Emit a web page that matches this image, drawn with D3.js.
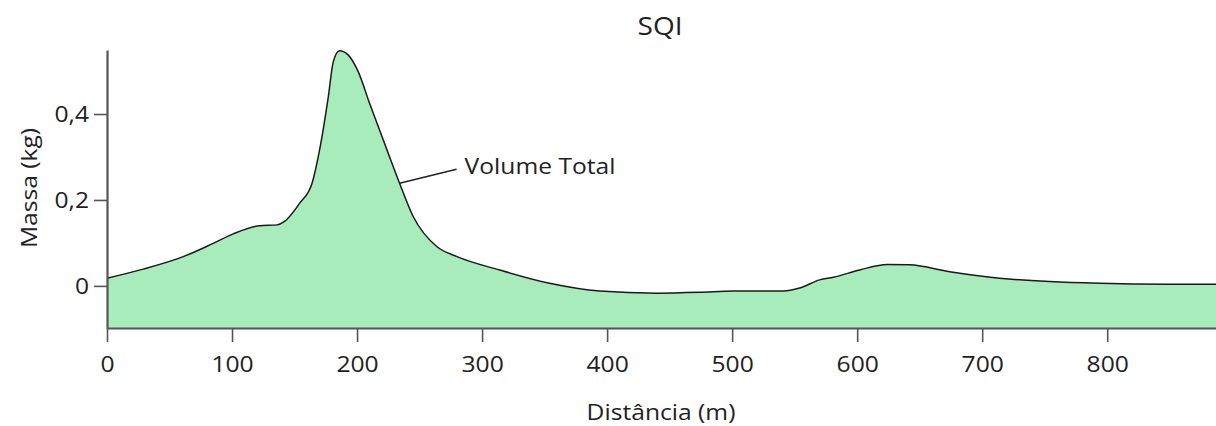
<!DOCTYPE html>
<html>
<head>
<meta charset="utf-8">
<script src="https://cdn.jsdelivr.net/npm/d3@7"></script>
<style>
  html, body { margin: 0; padding: 0; background: #fff; }
  svg { display: block; font-family: "Open Sans", "Noto Sans", sans-serif; }
</style>
</head>
<body>
<svg id="chart" width="1216" height="426"></svg>
<script>
// Distance along the profile (m) and mass of total volume (kg)
const distance = [0, 29, 61, 85, 101, 122, 136, 142, 154, 164, 170, 177, 181, 186, 193, 201, 210, 224, 234, 245, 264, 280, 314, 354, 394, 440, 474, 501, 541, 554, 570, 581, 602, 624, 642, 674, 714, 754, 794, 848, 887];
const mass = [0.018, 0.039, 0.068, 0.099, 0.121, 0.140, 0.142, 0.150, 0.192, 0.239, 0.316, 0.440, 0.522, 0.547, 0.537, 0.498, 0.425, 0.316, 0.239, 0.161, 0.091, 0.068, 0.037, 0.006, -0.012, -0.017, -0.015, -0.012, -0.012, -0.005, 0.014, 0.020, 0.037, 0.050, 0.049, 0.033, 0.018, 0.010, 0.006, 0.004, 0.004];
const xTicks = [0, 100, 200, 300, 400, 500, 600, 700, 800];
const yTicks = [0, 0.2, 0.4];
const seriesLabel = "Volume Total";
const labelAt = 234; // distance where the label leader touches the curve

const data = distance.map((d, i) => ({ x: d, y: mass[i] }));

const svg = d3.select("#chart");
const x = d3.scaleLinear().domain([0, 887]).range([107, 1216]);
const y = d3.scaleLinear().domain([-0.098, 0.549]).range([328, 50]);

const WIDE = 1.12;          // horizontal widening of the lettering
const ink = "#222";
const axisGrey = "#555";
const curve = d3.curveMonotoneX;

// filled area down to the bottom of the plot
svg.append("path")
  .datum(data)
  .attr("fill", "#a8ecbc")
  .attr("d", d3.area().x(d => x(d.x)).y0(y(-0.098)).y1(d => y(d.y)).curve(curve));

svg.append("path")
  .datum(data)
  .attr("fill", "none")
  .attr("stroke", "#1a1a1a")
  .attr("stroke-width", 1.5)
  .attr("d", d3.line().x(d => x(d.x)).y(d => y(d.y)).curve(curve));

const fmt = v => v === 0 ? "0" : d3.format(".1f")(v).replace(".", ",");

// y axis
const yAxis = svg.append("g")
  .attr("transform", "translate(107,0)")
  .call(d3.axisLeft(y).tickValues(yTicks).tickFormat(fmt).tickSize(13).tickSizeOuter(0));
yAxis.select(".domain").attr("stroke", axisGrey).attr("stroke-width", 2.2);
yAxis.selectAll(".tick line").attr("stroke", axisGrey).attr("stroke-width", 1.6);
yAxis.selectAll(".tick text")
  .attr("font-size", 22).attr("fill", ink)
  .attr("font-family", "'Open Sans', sans-serif")
  .attr("x", 0).attr("dy", "0.35em")
  .attr("transform", `translate(-18,0) scale(${WIDE},1)`);

// x axis
const xAxis = svg.append("g")
  .attr("transform", "translate(0,328)")
  .call(d3.axisBottom(x).tickValues(xTicks).tickFormat(d3.format("d")).tickSize(14).tickSizeOuter(0));
xAxis.select(".domain").attr("stroke", axisGrey).attr("stroke-width", 2.2);
xAxis.selectAll(".tick line").attr("stroke", axisGrey).attr("stroke-width", 1.6);
xAxis.selectAll(".tick text")
  .attr("font-size", 22).attr("fill", ink)
  .attr("font-family", "'Open Sans', sans-serif")
  .attr("y", 44).attr("dy", 0)
  .attr("transform", `scale(${WIDE},1)`);

// titles
svg.append("text")
  .attr("transform", `translate(660,35) scale(${WIDE},1)`)
  .attr("text-anchor", "middle")
  .attr("font-size", 25).attr("fill", ink)
  .text("SQI");

svg.append("text")
  .attr("transform", `translate(661,420) scale(${WIDE},1)`)
  .attr("text-anchor", "middle")
  .attr("font-size", 22).attr("fill", ink)
  .text("Distância (m)");

svg.append("text")
  .attr("transform", `translate(37,188) rotate(-90) scale(${WIDE},1)`)
  .attr("text-anchor", "middle")
  .attr("font-size", 22).attr("fill", ink)
  .text("Massa (kg)");

// series label with leader line
const lx = x(labelAt), ly = y(0.239);
svg.append("line")
  .attr("x1", lx).attr("y1", ly)
  .attr("x2", lx + 57).attr("y2", ly - 14)
  .attr("stroke", ink).attr("stroke-width", 1.4);
svg.append("text")
  .attr("transform", `translate(${lx + 65},${ly - 9}) scale(${WIDE},1)`)
  .attr("font-size", 22).attr("fill", ink)
  .text(seriesLabel);
</script>
</body>
</html>
